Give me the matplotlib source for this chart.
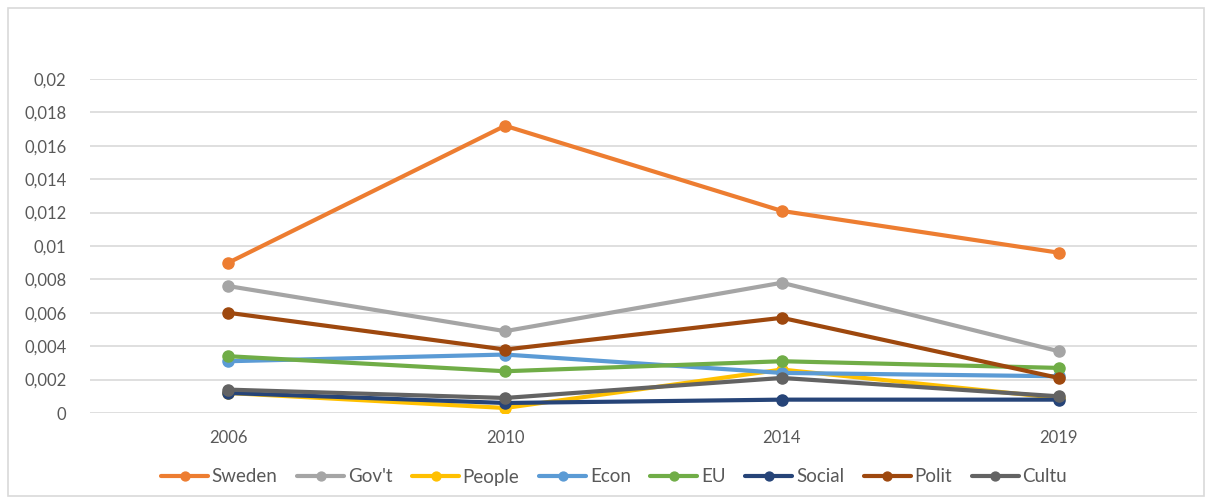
import matplotlib.pyplot as plt
from matplotlib.ticker import MultipleLocator, FuncFormatter
from matplotlib.patches import Rectangle


years = ["2006", "2010", "2014", "2019"]

sweden = [0.0090, 0.0172, 0.0121, 0.0096]
govt = [0.0076, 0.0049, 0.0078, 0.0037]
people = [0.0012, 0.0003, 0.0026, 0.0009]
econ = [0.0031, 0.0035, 0.0024, 0.0022]
eu = [0.0034, 0.0025, 0.0031, 0.0027]
social = [0.0012, 0.0006, 0.0008, 0.0008]
polit = [0.0060, 0.0038, 0.0057, 0.0021]
cultu = [0.0014, 0.0009, 0.0021, 0.0010]

series = [
    ("Sweden", sweden, "#ED7D31"),
    ("Gov't", govt, "#A5A5A5"),
    ("People", people, "#FFC000"),
    ("Econ", econ, "#5B9BD5"),
    ("EU", eu, "#70AD47"),
    ("Social", social, "#264478"),
    ("Polit", polit, "#9E480E"),
    ("Cultu", cultu, "#636363"),
]

plt.rcParams["font.family"] = ["Lato", "DejaVu Sans"]

fig = plt.figure(figsize=(12.12, 5.04), dpi=100)
ax = fig.add_axes([90 / 1212, 91 / 504, 1107 / 1212, 334 / 504])

# chart border
fig.patches.append(Rectangle((8 / 1212, 8 / 504), 1196 / 1212, 488 / 504,
                             transform=fig.transFigure, fill=False,
                             edgecolor="#D9D9D9", linewidth=1.2))

x = range(len(years))
for name, vals, color in series:
    ax.plot(x, vals, color=color, linewidth=3, marker="o",
            markersize=8, label=name, solid_capstyle="round")

ax.set_xlim(-0.5, len(years) - 0.5)
ax.set_ylim(0, 0.02)
ax.set_xticks(list(x))
ax.set_xticklabels(years)
ax.yaxis.set_major_locator(MultipleLocator(0.002))
ax.yaxis.set_major_formatter(
    FuncFormatter(lambda v, p: f"{round(v, 4):g}".replace(".", ",")))

ax.grid(axis="y", color="#D9D9D9", linewidth=1.2)
ax.set_axisbelow(True)
for s in ax.spines.values():
    s.set_visible(False)
ax.tick_params(length=0, labelsize=12, labelcolor="#595959")
ax.tick_params(axis="y", pad=17)
ax.tick_params(axis="x", pad=12)

fig.legend(loc="center", bbox_to_anchor=(614 / 1212, 27 / 504), ncol=8,
           frameon=False, fontsize=13.5, labelcolor="#595959",
           handlelength=2.5, handletextpad=0.2, columnspacing=1.05,
           markerscale=0.8)

fig.savefig("out.png", dpi=100)
